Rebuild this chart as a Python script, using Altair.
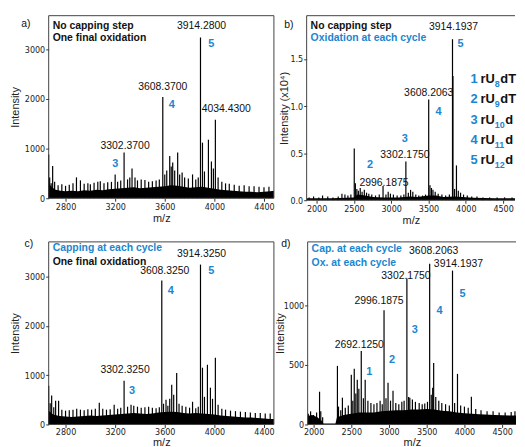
import altair as alt
import pandas as pd

BLUE = "#1a86d0"
FONT = "Liberation Sans"
NARROW = "Liberation Sans Narrow, DejaVu Sans Condensed, Liberation Sans"

# ---------------- panel a ----------------
a_mz = [2664, 2672, 2684, 2696, 2712, 2740, 2770, 2800, 2830, 2860, 2888, 2920, 2950, 2980, 3000, 3030, 3060, 3080, 3110, 3140,
        3170, 3200, 3220, 3245, 3272, 3300, 3318, 3336, 3360, 3380, 3410, 3440, 3470, 3500, 3530, 3556, 3584, 3600, 3616, 3640,
        3652, 3664, 3680, 3704, 3720, 3740, 3760, 3790, 3824, 3850, 3870, 3888, 3904, 3920, 3952, 3976, 3992, 4008, 4030, 4060,
        4090, 4120, 4160, 4200, 4240, 4280, 4320, 4360, 4400, 4440]
a_int = [880, 420, 300, 650, 330, 260, 280, 250, 270, 300, 420, 360, 290, 300, 280, 310, 330, 340, 300, 320,
         330, 480, 330, 360, 920, 380, 420, 600, 420, 360, 380, 370, 330, 340, 360, 380, 2040, 480, 560, 850,
         640, 720, 560, 920, 480, 520, 420, 400, 480, 380, 420, 3240, 1120, 540, 1180, 740, 600, 1580, 420, 330,
         300, 290, 270, 250, 260, 240, 240, 230, 220, 230]
a_base_mz = [2664, 2690, 2720, 2760, 2800, 2850, 2900, 2950, 3000, 3050, 3100, 3150, 3200, 3250, 3300, 3350, 3400, 3450, 3500,
             3550, 3600, 3650, 3700, 3750, 3800, 3850, 3900, 3950, 4000, 4050, 4100, 4150, 4200, 4250, 4300, 4350, 4400, 4450, 4480]
a_base_top = [300, 220, 170, 150, 140, 150, 140, 160, 150, 170, 160, 180, 190, 200, 210, 220, 200, 210, 220,
              230, 240, 260, 250, 230, 210, 220, 230, 210, 190, 170, 160, 150, 140, 130, 130, 120, 130, 140, 150]
a_lab_mz = [3896, 3584, 4096, 3280]
a_lab_int = [3480, 2240, 1800, 1060]
a_lab_txt = ["3914.2800", "3608.3700", "4034.4300", "3302.3700"]
a_num_mz = [3976, 3656, 3200]
a_num_int = [3100, 1880, 680]
a_num_txt = ["5", "4", "3"]

# ---------------- panel b ----------------
b_mz = [1900, 1960, 2030, 2080, 2150, 2220, 2290, 2340, 2380, 2420, 2460, 2505, 2520, 2540, 2560, 2585, 2610, 2640, 2670, 2700,
        2740, 2790, 2840, 2891, 2930, 2960, 2990, 3030, 3080, 3130, 3170, 3197, 3230, 3260, 3290, 3330, 3370, 3420, 3460, 3503,
        3520, 3540, 3560, 3590, 3630, 3680, 3730, 3780, 3822, 3828, 3850, 3875, 3900, 3930, 3970, 4020, 4080, 4150, 4230, 4320,
        4420, 4520, 4620]
b_int = [0.03, 0.04, 0.03, 0.05, 0.04, 0.03, 0.04, 0.07, 0.06, 0.05, 0.06, 0.55, 0.18, 0.12, 0.10, 0.13, 0.09, 0.11, 0.08, 0.07,
         0.06, 0.05, 0.06, 0.15, 0.06, 0.09, 0.07, 0.06, 0.05, 0.05, 0.06, 0.41, 0.08, 0.11, 0.09, 0.06, 0.05, 0.05, 0.06, 1.07,
         0.16, 0.13, 0.11, 0.09, 0.07, 0.06, 0.05, 0.06, 1.71, 1.32, 0.12, 0.37, 0.10, 0.08, 0.06, 0.05, 0.04, 0.04, 0.03, 0.03,
         0.03, 0.03, 0.03]
b_base_mz = [1867, 2000, 2200, 2400, 2500, 2550, 2650, 2750, 2900, 3100, 3250, 3350, 3500, 3600, 3700, 3850, 3950, 4100, 4400, 4660]
b_base_top = [0.02, 0.02, 0.02, 0.025, 0.03, 0.06, 0.05, 0.035, 0.03, 0.03, 0.04, 0.035, 0.05, 0.05, 0.035, 0.04, 0.035, 0.025, 0.02, 0.02]
b_lab_mz = [3835, 3503, 3184, 2904]
b_lab_int = [1.84, 1.14, 0.475, 0.18]
b_lab_txt = ["3914.1937", "3608.2063", "3302.1750", "2996.1875"]
b_num_mz = [3928, 3636, 3184, 2718]
b_num_int = [1.66, 0.94, 0.655, 0.37]
b_num_txt = ["5", "4", "3", "2"]
# legend of panel b (text as far as it is visible in the figure)
leg_num = ["1", "2", "3", "4", "5"]
leg_sub = ["8", "9", "10", "11", "12"]
leg_tail = ["dT", "dT", "d", "d", "d"]
leg_y = [1.29, 1.077, 0.855, 0.634, 0.422]
leg_mz = 4110

# ---------------- panel c ----------------
c_mz = [2664, 2676, 2688, 2705, 2720, 2744, 2770, 2800, 2830, 2860, 2890, 2920, 2950, 2980, 3010, 3040, 3072, 3100, 3130, 3160,
        3192, 3220, 3245, 3272, 3300, 3328, 3350, 3380, 3410, 3440, 3470, 3500, 3530, 3556, 3576, 3590, 3610, 3625, 3640, 3656,
        3672, 3696, 3715, 3740, 3770, 3800, 3824, 3850, 3870, 3888, 3904, 3920, 3944, 3968, 3985, 4008, 4030, 4060, 4090, 4130,
        4170, 4210, 4250, 4290, 4330, 4370, 4410, 4450]
c_int = [785, 430, 585, 350, 480, 480, 300, 280, 290, 300, 320, 300, 290, 310, 300, 320, 440, 320, 300, 310,
         400, 320, 340, 885, 360, 400, 380, 360, 340, 350, 360, 340, 330, 350, 2920, 420, 500, 380, 520, 805,
         600, 1045, 420, 380, 360, 340, 460, 330, 360, 3240, 1150, 560, 1210, 745, 520, 1350, 400, 320, 300, 280,
         270, 260, 250, 240, 230, 230, 220, 220]
c_base_mz = [2664, 2700, 2750, 2800, 2850, 2900, 2950, 3000, 3050, 3100, 3150, 3200, 3250, 3300, 3350, 3400, 3450, 3500, 3550,
             3600, 3650, 3700, 3750, 3800, 3850, 3900, 3950, 4000, 4050, 4100, 4150, 4200, 4250, 4300, 4350, 4400, 4450, 4480]
c_base_top = [280, 200, 170, 160, 150, 160, 170, 180, 170, 180, 190, 200, 210, 220, 230, 220, 210, 220, 240,
              250, 260, 250, 230, 220, 230, 220, 210, 200, 180, 170, 160, 150, 140, 140, 130, 120, 110, 110]
c_lab_mz = [3896, 3600, 3280]
c_lab_int = [3460, 3100, 1110]
c_lab_txt = ["3914.3250", "3608.3250", "3302.3250"]
c_num_mz = [3976, 3648, 3336]
c_num_int = [3100, 2700, 680]
c_num_txt = ["5", "4", "3"]

# ---------------- panel d ----------------
d_mz = [1930, 1960, 2000, 2040, 2079, 2095, 2120, 2316, 2330, 2360, 2382, 2420, 2460, 2500, 2520, 2539, 2560, 2579, 2600, 2632,
        2660, 2684, 2720, 2760, 2800, 2840, 2882, 2910, 2934, 2960, 2987, 3020, 3053, 3090, 3130, 3170, 3200, 3237, 3260, 3276,
        3310, 3350, 3400, 3440, 3474, 3510, 3539, 3560, 3579, 3592, 3620, 3660, 3700, 3750, 3800, 3842, 3870, 3908, 3950, 4000,
        4050, 4092, 4150, 4220, 4300, 4380, 4460, 4540, 4620, 4670]
d_int = [90, 110, 80, 100, 275, 110, 60, 492, 150, 120, 225, 140, 160, 417, 200, 467, 260, 375, 300, 617,
         220, 375, 200, 180, 170, 180, 200, 170, 958, 220, 350, 200, 283, 180, 170, 190, 200, 1225, 230, 225,
         210, 190, 180, 170, 175, 190, 1350, 250, 308, 517, 230, 200, 180, 170, 160, 1292, 180, 425, 160, 150,
         140, 233, 130, 120, 110, 110, 100, 100, 105, 110]
d_base_mz = [1921, 1980, 2050, 2110, 2130, 2290, 2310, 2400, 2500, 2600, 2700, 2800, 2900, 3000, 3100, 3200, 3300, 3400, 3500,
             3600, 3700, 3800, 3900, 4000, 4200, 4400, 4600, 4684]
d_base_top = [70, 80, 60, 30, 8, 8, 60, 80, 90, 100, 100, 100, 110, 115, 120, 120, 125, 125, 130,
              125, 115, 110, 100, 95, 85, 80, 75, 75]
d_lab_mz = [3592, 3921, 3224, 2868, 2605]
d_lab_int = [1458, 1350, 1250, 1033, 667]
d_lab_txt = ["3608.2063", "3914.1937", "3302.1750", "2996.1875", "2692.1250"]
d_num_mz = [3974, 3671, 3342, 3039, 2737]
d_num_int = [1092, 950, 792, 542, 442]
d_num_txt = ["5", "4", "3", "2", "1"]

ticks_ac = [2800, 3000, 3200, 3400, 3600, 3800, 4000, 4200, 4400]
ticks_bd = [2000, 2500, 3000, 3500, 4000, 4500]


def frame_layers(w, h, full):
    one = pd.DataFrame({"k": [0]})
    st = dict(color="#444", strokeWidth=1)
    lay = [
        alt.Chart(one).mark_rule(**st).encode(x=alt.value(0), x2=alt.value(w), y=alt.value(0)),
        alt.Chart(one).mark_rule(**st).encode(x=alt.value(0), x2=alt.value(w), y=alt.value(h)),
        alt.Chart(one).mark_rule(**st).encode(x=alt.value(0), y=alt.value(0), y2=alt.value(h)),
    ]
    if full:
        lay.append(alt.Chart(one).mark_rule(**st).encode(x=alt.value(w), y=alt.value(0), y2=alt.value(h)))
    return lay


def panel(mz, inten, bmz, btop, xdom, ydom, w, h, xticks, yticks, yfmt, ytitle, ytx,
          lab, num, head, letter, letter_xy, head_y, full, extra=None, xpad=(1, 1)):
    xs = alt.Scale(domain=xdom, nice=False, zero=False)
    ys = alt.Scale(domain=ydom, nice=False, zero=True)
    xax = alt.Axis(values=xticks, format="d", title="m/z", grid=False, domain=False,
                   tickSize=3, tickColor="#333", labelFont=NARROW, labelFontSize=9, labelPadding=xpad[0],
                   labelColor="#222", titleFont=FONT, titleFontSize=11, titleFontWeight="normal",
                   titlePadding=xpad[1], titleColor="#222", labelFlush=False)
    yax = alt.Axis(values=yticks, format=yfmt, title=ytitle, grid=False, domain=False,
                   tickSize=3, tickColor="#333", labelFont=NARROW, labelFontSize=9, labelPadding=1,
                   labelColor="#222", titleFont=FONT, titleFontSize=11, titleFontWeight="normal",
                   titleColor="#222", titleX=ytx, titleBaseline="middle", labelFlush=False)
    base = alt.Chart(pd.DataFrame({"mz": bmz, "i": btop})).mark_area(
        color="black", interpolate="linear").encode(
        x=alt.X("mz:Q", scale=xs, axis=xax), y=alt.Y("i:Q", scale=ys, axis=yax))
    spikes = alt.Chart(pd.DataFrame({"mz": mz, "i": inten, "z": [0] * len(mz)})).mark_rule(
        color="black", strokeWidth=1.2).encode(x="mz:Q", y="i:Q", y2="z:Q")
    labels = alt.Chart(pd.DataFrame({"mz": lab[0], "i": lab[1], "t": lab[2]})).mark_text(
        font=FONT, fontSize=10.5, color="#111", align="center", baseline="middle").encode(
        x="mz:Q", y="i:Q", text="t:N")
    nums = alt.Chart(pd.DataFrame({"mz": num[0], "i": num[1], "t": num[2]})).mark_text(
        font=FONT, fontSize=11, fontWeight="bold", color=BLUE, align="center", baseline="middle").encode(
        x="mz:Q", y="i:Q", text="t:N")
    layers = [base, spikes, labels, nums]
    for k, (txt, col) in enumerate(head):
        layers.append(alt.Chart(pd.DataFrame({"t": [txt]})).mark_text(
            font=FONT, fontSize=10.5, fontWeight="bold", color=col, align="left", baseline="middle").encode(
            x=alt.value(4), y=alt.value(head_y[k]), text="t:N"))
    layers.append(alt.Chart(pd.DataFrame({"t": [letter]})).mark_text(
        font=FONT, fontSize=10.5, color="#111", align="center", baseline="middle").encode(
        x=alt.value(letter_xy[0]), y=alt.value(letter_xy[1]), text="t:N"))
    layers += frame_layers(w, h, full)
    if extra:
        layers += extra
    return alt.layer(*layers).properties(width=w, height=h, view=alt.ViewBackground(stroke=None))


# legend layers for panel b
leg_df = pd.DataFrame({"mz": [leg_mz] * 5, "i": leg_y, "n": leg_num, "s": leg_sub,
                       "r": ["rU"] * 5, "d": leg_tail})
leg_df["two"] = [len(s) == 2 for s in leg_sub]
LFS = 13
leg_layers = [
    alt.Chart(leg_df).mark_text(font=FONT, fontSize=LFS, fontWeight="bold", color=BLUE,
                                align="center", baseline="middle").encode(x="mz:Q", y="i:Q", text="n:N"),
    alt.Chart(leg_df).mark_text(font=FONT, fontSize=LFS, fontWeight="bold", color="#111",
                                align="left", baseline="middle", dx=6.5).encode(x="mz:Q", y="i:Q", text="r:N"),
    alt.Chart(leg_df).mark_text(font=FONT, fontSize=9, fontWeight="bold", color=BLUE,
                                align="left", baseline="middle", dx=21, dy=5).encode(x="mz:Q", y="i:Q", text="s:N"),
    alt.Chart(leg_df[~leg_df["two"]]).mark_text(font=FONT, fontSize=LFS, fontWeight="bold", color="#111",
                                align="left", baseline="middle", dx=26.5).encode(x="mz:Q", y="i:Q", text="d:N"),
    alt.Chart(leg_df[leg_df["two"]]).mark_text(font=FONT, fontSize=LFS, fontWeight="bold", color="#111",
                                align="left", baseline="middle", dx=31.5).encode(x="mz:Q", y="i:Q", text="d:N"),
]

pa = panel(a_mz, a_int, a_base_mz, a_base_top, [2664, 4480], [0, 3680], 227, 184, ticks_ac,
           [0, 1000, 2000, 3000], "d", "Intensity", -33,
           (a_lab_mz, a_lab_int, a_lab_txt), (a_num_mz, a_num_int, a_num_txt),
           [("No capping step", "#111"), ("One final oxidation", "#111")], "a)", (-23, 8), [10, 23], True)
pb = panel(b_mz, b_int, b_base_mz, b_base_top, [1867, 4660], [0, 1.96], 210, 186, ticks_bd,
           [0, 0.5, 1.0, 1.5], ".1f", "Intensity (x10⁴)", -22,
           (b_lab_mz, b_lab_int, b_lab_txt), (b_num_mz, b_num_int, b_num_txt),
           [("No capping step", "#111"), ("Oxidation at each cycle", BLUE)], "b)", (-18, 9), [10, 23], False,
           extra=leg_layers)
pc = panel(c_mz, c_int, c_base_mz, c_base_top, [2664, 4480], [0, 3700], 227, 184, ticks_ac,
           [0, 1000, 2000, 3000], "d", "Intensity", -33,
           (c_lab_mz, c_lab_int, c_lab_txt), (c_num_mz, c_num_int, c_num_txt),
           [("Capping at each cycle", BLUE), ("One final oxidation", "#111")], "c)", (-20, 2), [6, 20], True,
           xpad=(0, 0))
pd_ = panel(d_mz, d_int, d_base_mz, d_base_top, [1921, 4684], [0, 1533], 210, 184, ticks_bd,
            [0, 250, 500, 750, 1000, 1250], "d", "Intensity", -27,
            (d_lab_mz, d_lab_int, d_lab_txt), (d_num_mz, d_num_int, d_num_txt),
            [("Cap. at each cycle", BLUE), ("Ox. at each cycle", BLUE)], "d)", (-22, 2), [7, 21], False,
            xpad=(0, 0))

row1 = alt.hconcat(pa, pb, spacing=4)
row2 = alt.hconcat(pc, pd_, spacing=0)
chart = alt.vconcat(row1, row2, spacing=14).properties(
    padding={"left": 2, "top": 5, "right": 0, "bottom": 0}
).configure(background="white")

chart.save("out.html", embed_options={"renderer": "svg", "actions": False})
